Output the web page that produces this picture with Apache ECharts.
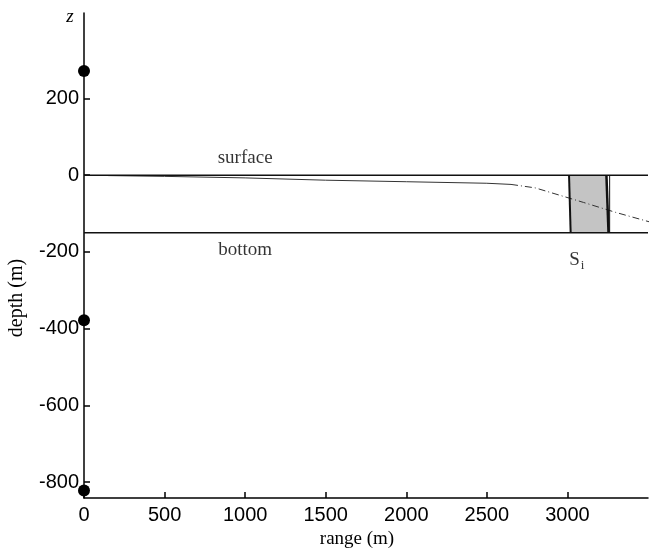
<!DOCTYPE html>
<html>
<head>
<meta charset="utf-8">
<title>depth / range</title>
<script src="https://cdn.jsdelivr.net/npm/echarts@6/dist/echarts.min.js"></script>
<style>
  html, body { margin: 0; padding: 0; background: #fff; }
  #chart { width: 671px; height: 554px; }
</style>
</head>
<body>
<div id="chart"></div>
<script>
// tick values
var xTicks = [0, 500, 1000, 1500, 2000, 2500, 3000];
var yTicks = [-800, -600, -400, -200, 0, 200];

// sources on the z axis
var sources = [[0, 272], [0, -378], [0, -822]];

// surface and bottom of the channel
var surfaceLine = [[0, 0], [3500, 0]];
var bottomLine = [[0, -150], [3500, -150]];

// thin profile, solid part then dash-dot part
var profileSolid = [[150, -1], [500, -3], [1000, -7], [1500, -13], [2000, -17], [2500, -21], [2650, -24]];
var profileDash = [[2650, -24], [2800, -33], [2950, -52], [3100, -71], [3300, -97], [3580, -130]];

// shaded section S_i
var shadeBox = [[3010, 0], [3242, 0], [3255, -150], [3020, -150]];
var shadeLeft = [[3010, 0], [3020, -150]];
var shadeRight = [[3242, 0], [3255, -150]];
var shadeRight2 = [[3262, 0], [3262, -150]];

// text labels in data coords
var labels = [
  { name: 'surface', value: [1000, 44] },
  { name: 'bottom', value: [1000, -195] },
  { name: 'S', value: [3058, -222] }
];

var chart = echarts.init(document.getElementById('chart'));

function edge(data, w) {
  return {
    type: 'line', data: data, symbol: 'none', silent: true,
    lineStyle: { color: '#111', width: w }, z: 4
  };
}

function plain(v) { return String(v); }

chart.setOption({
  animation: false,
  grid: { left: 84, right: 23, top: 13, bottom: 54 },
  xAxis: {
    type: 'value', min: 0, max: 3500,
    name: 'range (m)', nameLocation: 'middle', nameGap: 30,
    nameTextStyle: { fontFamily: 'Liberation Serif', fontSize: 19, color: '#000', padding: [0, 18, 0, 0] },
    axisLine: { onZero: false, lineStyle: { color: '#000', width: 1.5 } },
    axisTick: { show: true, inside: true, length: 6, customValues: xTicks, lineStyle: { color: '#000', width: 1.5 } },
    axisLabel: { customValues: xTicks, formatter: plain, margin: 7, fontFamily: 'Liberation Sans', fontSize: 20, color: '#000' },
    splitLine: { show: false }
  },
  yAxis: {
    type: 'value', min: -842, max: 423,
    axisLine: { onZero: false, lineStyle: { color: '#000', width: 1.5 } },
    axisTick: { show: true, inside: true, length: 6, customValues: yTicks, lineStyle: { color: '#000', width: 1.5 } },
    axisLabel: { customValues: yTicks, formatter: plain, margin: 5, fontFamily: 'Liberation Sans', fontSize: 20, color: '#000' },
    splitLine: { show: false }
  },
  graphic: [
    { type: 'text', x: 17, y: 298, rotation: Math.PI / 2,
      style: { text: 'depth (m)', font: '20px "Liberation Serif"', fill: '#000', align: 'center', verticalAlign: 'middle' } },
    { type: 'text', x: 70, y: 17,
      style: { text: 'z', font: 'italic 19px "Liberation Serif"', fill: '#000', align: 'center', verticalAlign: 'middle' } }
  ],
  series: [
    {
      type: 'custom', silent: true, z: 1,
      data: [0],
      renderItem: function (params, api) {
        var pts = shadeBox.map(function (p) { return api.coord(p); });
        return {
          type: 'polygon',
          shape: { points: pts },
          style: { fill: '#c4c4c4', stroke: null }
        };
      }
    },
    edge(surfaceLine, 1.5),
    edge(bottomLine, 1.5),
    edge(shadeLeft, 2),
    edge(shadeRight, 2.5),
    edge(shadeRight2, 1),
    {
      type: 'line', data: profileSolid, symbol: 'none', silent: true, z: 3,
      lineStyle: { color: '#333', width: 1 }
    },
    {
      type: 'line', data: profileDash, symbol: 'none', silent: true, z: 3, clip: false,
      lineStyle: { color: '#333', width: 1, type: [7, 3, 1, 3] }
    },
    {
      type: 'scatter', data: sources, symbol: 'circle', symbolSize: 12, clip: false, z: 5,
      itemStyle: { color: '#000', opacity: 1 }
    },
    {
      type: 'scatter', data: labels, symbolSize: 0, silent: true, z: 6,
      label: {
        show: true, position: 'inside',
        fontFamily: 'Liberation Serif', fontSize: 19, color: '#000',
        formatter: function (p) {
          return p.name === 'S' ? 'S{sub|i}' : p.name;
        },
        rich: { sub: { fontFamily: 'Liberation Serif', fontSize: 13, verticalAlign: 'bottom', padding: [10, 0, 0, 1] } }
      }
    }
  ]
});
</script>
</body>
</html>
